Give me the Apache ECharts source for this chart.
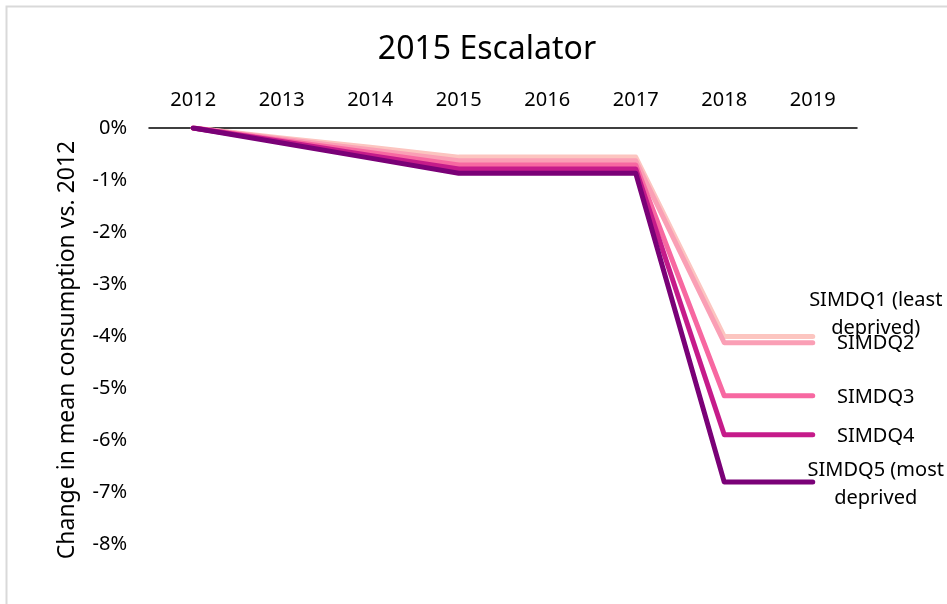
<!DOCTYPE html>
<html>
<head>
<meta charset="utf-8">
<title>2015 Escalator</title>
<script src="https://cdn.jsdelivr.net/npm/echarts@6/dist/echarts.min.js"></script>
<style>
  html, body { margin: 0; padding: 0; background: #fff; }
  #chart { width: 947px; height: 604px; }
</style>
</head>
<body>
<div id="chart"></div>
<script>
// years along the top axis
var years = ['2012', '2013', '2014', '2015', '2016', '2017', '2018', '2019']

// change in mean consumption vs. 2012, in %
var simdq1 = [0, -0.19, -0.37, -0.56, -0.56, -0.56, -4.01, -4.01]
var simdq2 = [0, -0.21, -0.42, -0.63, -0.63, -0.63, -4.13, -4.13]
var simdq3 = [0, -0.24, -0.47, -0.71, -0.71, -0.71, -5.15, -5.15]
var simdq4 = [0, -0.26, -0.53, -0.79, -0.79, -0.79, -5.90, -5.90]
var simdq5 = [0, -0.29, -0.58, -0.87, -0.87, -0.87, -6.81, -6.81]

var seriesNames = ['SIMDQ1 (least\ndeprived)', 'SIMDQ2', 'SIMDQ3', 'SIMDQ4', 'SIMDQ5 (most\ndeprived']
var seriesColors = ['#fcc5c0', '#fa9fb5', '#f768a1', '#c51b8a', '#7a0177']
var labelShift = [-22, 1, 1, 1, 2]

var FONT = 'Noto Sans'
var chart = echarts.init(document.getElementById('chart'))

var seriesData = []
var allValues = [simdq1, simdq2, simdq3, simdq4, simdq5]
for (var i = 0; i < allValues.length; i++) {
  seriesData.push({
    name: seriesNames[i],
    type: 'line',
    data: allValues[i],
    showSymbol: false,
    symbol: 'none',
    animation: false,
    z: 2 + i,
    lineStyle: {
      color: seriesColors[i],
      width: 5,
      cap: 'round',
      join: 'round'
    },
    itemStyle: { color: seriesColors[i] },
    endLabel: {
      show: true,
      formatter: '{a}',
      color: '#000',
      fontFamily: FONT,
      fontSize: 20,
      lineHeight: 28,
      align: 'center',
      verticalAlign: 'middle',
      distance: 0,
      offset: [63, labelShift[i]]
    },
    emphasis: { disabled: true }
  })
}

chart.setOption({
  backgroundColor: '#fff',
  animation: false,
  title: {
    text: '2015 Escalator',
    left: 482,
    top: 29,
    textAlign: 'center',
    textStyle: {
      fontFamily: FONT,
      fontSize: 32,
      fontWeight: 'normal',
      color: '#000'
    }
  },
  graphic: [{
    type: 'rect',
    shape: { x: 6.5, y: 6.5, width: 1200, height: 1200 },
    style: { fill: 'none', stroke: '#d9d9d9', lineWidth: 2 },
    silent: true
  }],
  grid: {
    left: 149,
    right: 90,
    top: 128,
    bottom: 60,
    containLabel: false,
    outerBoundsMode: 'none'
  },
  xAxis: {
    type: 'category',
    position: 'top',
    data: years,
    boundaryGap: true,
    axisLine: { show: true, onZero: false, lineStyle: { color: '#000', width: 1.5 } },
    axisTick: { show: false },
    splitLine: { show: false },
    axisLabel: {
      color: '#000',
      fontFamily: FONT,
      fontSize: 20,
      margin: 18
    }
  },
  yAxis: {
    type: 'value',
    min: -8,
    max: 0,
    interval: 1,
    name: 'Change in mean consumption vs. 2012',
    nameLocation: 'middle',
    nameGap: 70,
    nameTextStyle: {
      color: '#000',
      fontFamily: FONT,
      fontSize: 23,
      padding: [0, 28, 0, 0]
    },
    axisLine: { show: false },
    axisTick: { show: false },
    splitLine: { show: false },
    axisLabel: {
      color: '#000',
      fontFamily: FONT,
      fontSize: 20,
      margin: 22,
      formatter: function (v) { return v + '%' }
    }
  },
  series: seriesData
})
</script>
</body>
</html>
